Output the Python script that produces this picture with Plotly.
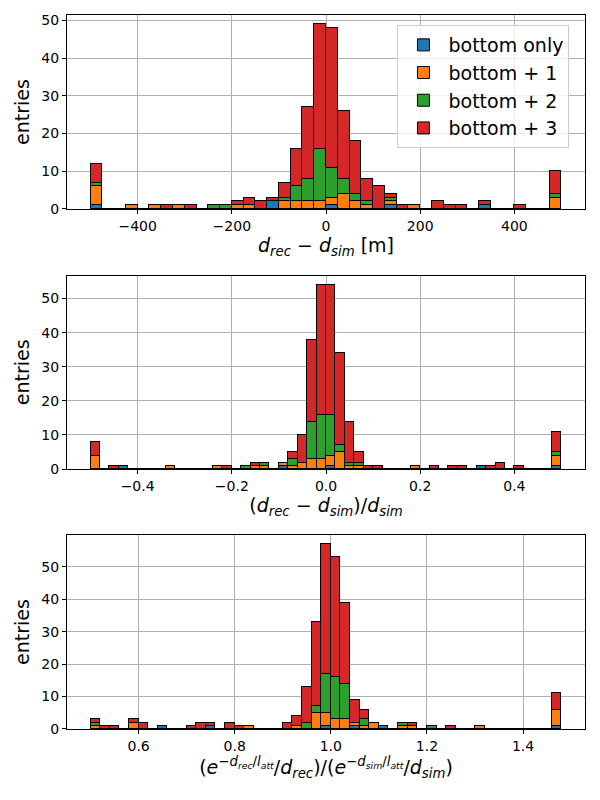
import plotly.graph_objects as go
from plotly.subplots import make_subplots

# histogram binning: first bin edge and bin width of each panel
abs_start, abs_width = -500, 25
rel_start, rel_width = -0.5, 0.02
att_start, att_width = 0.5, 0.02

labels = ["bottom only", "bottom + 1", "bottom + 2", "bottom + 3"]
colors = ["#1f77b4", "#ff7f0e", "#2ca02c", "#d62728"]

# d_rec - d_sim [m], 40 bins
abs_only = [1, 0, 0, 0, 0, 0, 0, 0, 0, 0, 0, 0, 0, 0, 0, 2, 0, 0, 0, 0,
            1, 0, 0, 0, 0, 1, 0, 0, 0, 0, 0, 0, 0, 1, 0, 0, 0, 0, 0, 0]
abs_p1 = [5, 0, 0, 1, 0, 1, 0, 1, 0, 0, 0, 0, 1, 1, 0, 0, 2, 2, 2, 2,
          2, 4, 2, 1, 0, 1, 0, 1, 0, 0, 0, 0, 0, 0, 0, 0, 0, 0, 0, 3]
abs_p2 = [1, 0, 0, 0, 0, 0, 0, 0, 0, 0, 1, 1, 0, 0, 0, 0, 1, 4, 6, 14,
          8, 4, 2, 1, 0, 1, 0, 0, 0, 0, 0, 0, 0, 0, 0, 0, 0, 0, 0, 1]
abs_p3 = [5, 0, 0, 0, 0, 0, 1, 0, 1, 0, 0, 0, 1, 2, 2, 1, 4, 10, 19, 33,
          37, 18, 14, 6, 6, 1, 1, 0, 0, 2, 1, 1, 0, 1, 0, 0, 1, 0, 0, 6]

# (d_rec - d_sim) / d_sim, 50 bins
rel_only = [0, 0, 0, 1, 0, 0, 0, 0, 0, 0, 0, 0, 0, 0, 0, 0, 0, 0, 0, 0, 1, 0, 0, 0, 0,
            1, 0, 0, 0, 0, 0, 0, 0, 0, 0, 0, 0, 0, 0, 0, 0, 1, 0, 0, 0, 0, 0, 0, 0, 1]
rel_p1 = [4, 0, 0, 0, 0, 0, 0, 0, 1, 0, 0, 0, 0, 1, 0, 0, 0, 1, 1, 0, 1, 1, 2, 3, 3,
          3, 5, 1, 1, 0, 0, 0, 0, 0, 1, 0, 0, 0, 0, 0, 0, 0, 0, 0, 0, 0, 0, 0, 0, 3]
rel_p2 = [0, 0, 0, 0, 0, 0, 0, 0, 0, 0, 0, 0, 0, 0, 0, 0, 1, 0, 1, 0, 0, 2, 0, 11, 13,
          12, 2, 1, 1, 0, 0, 0, 0, 0, 0, 0, 0, 0, 0, 0, 0, 0, 0, 0, 0, 0, 0, 0, 0, 1]
rel_p3 = [4, 0, 1, 0, 0, 0, 0, 0, 0, 0, 0, 0, 0, 0, 1, 0, 0, 1, 0, 0, 0, 2, 8, 24, 38,
          38, 27, 12, 3, 1, 1, 0, 0, 0, 0, 0, 1, 0, 1, 1, 0, 0, 1, 2, 0, 1, 0, 0, 0, 6]

# attenuation ratio, 49 bins
att_only = [0, 0, 0, 0, 0, 0, 0, 1, 0, 0, 0, 0, 1, 0, 0, 0, 0, 0, 0, 0, 0, 0, 0, 0, 1,
            0, 0, 1, 0, 0, 1, 0, 0, 0, 0, 0, 0, 0, 0, 0, 0, 0, 0, 0, 0, 0, 0, 0, 1]
att_p1 = [1, 0, 0, 0, 2, 0, 0, 0, 0, 0, 0, 0, 0, 0, 0, 0, 1, 0, 0, 0, 0, 1, 0, 5, 4,
          3, 3, 1, 1, 2, 0, 0, 1, 1, 0, 0, 0, 0, 0, 0, 1, 0, 0, 0, 0, 0, 0, 0, 5]
att_p2 = [1, 0, 0, 0, 0, 0, 0, 0, 0, 0, 0, 0, 0, 0, 0, 0, 0, 0, 0, 0, 0, 0, 2, 2, 12,
          13, 11, 0, 2, 0, 0, 0, 1, 0, 0, 1, 0, 0, 0, 0, 0, 0, 0, 0, 0, 0, 0, 0, 0]
att_p3 = [1, 1, 1, 0, 1, 2, 0, 0, 0, 0, 1, 2, 1, 0, 2, 1, 0, 0, 0, 0, 2, 3, 11, 26, 40,
          37, 25, 7, 3, 0, 0, 0, 0, 1, 0, 0, 0, 1, 0, 0, 0, 0, 0, 0, 0, 0, 0, 0, 5]

panels = [
    (abs_start, abs_width, [abs_only, abs_p1, abs_p2, abs_p3]),
    (rel_start, rel_width, [rel_only, rel_p1, rel_p2, rel_p3]),
    (att_start, att_width, [att_only, att_p1, att_p2, att_p3]),
]

FONT = "DejaVu Sans"

fig = make_subplots(rows=3, cols=1)

for row, (start, width, series) in enumerate(panels, start=1):
    centers = [start + width * (i + 0.5) for i in range(len(series[0]))]
    for name, color, counts in zip(labels, colors, series):
        fig.add_trace(
            go.Bar(
                x=centers,
                y=counts,
                width=width,
                name=name,
                marker=dict(color=color, line=dict(color="black", width=1)),
                showlegend=(row == 1),
            ),
            row=row,
            col=1,
        )

axis_style = dict(
    showgrid=True,
    gridcolor="#b0b0b0",
    gridwidth=0.8,
    showline=True,
    linecolor="black",
    linewidth=1,
    mirror=True,
    ticks="outside",
    ticklen=4,
    tickcolor="black",
    zeroline=False,
    automargin=False,
    layer="above traces",
    tickfont=dict(family=FONT, size=14, color="black"),
)
title_font = dict(family=FONT, size=19, color="black")

# ---------------------------------- axes of the three panels ----------------------------------

domains = [[0.7283, 1.0], [0.3641, 0.6349], [0.0, 0.2717]]
x_titles = [
    "<i>d</i><sub><i>rec</i></sub> − <i>d</i><sub><i>sim</i></sub> [m]",
    "(<i>d</i><sub><i>rec</i></sub> − <i>d</i><sub><i>sim</i></sub>)/<i>d</i><sub><i>sim</i></sub>",
    "(<i>e</i><sup>−<i>d</i><sub><i>rec</i></sub>/<i>l</i><sub><i>att</i></sub></sup>/<i>d</i><sub><i>rec</i></sub>)"
    "/(<i>e</i><sup>−<i>d</i><sub><i>sim</i></sub>/<i>l</i><sub><i>att</i></sub></sup>/<i>d</i><sub><i>sim</i></sub>)",
]
x_ranges = [[-550, 550], [-0.55, 0.55], [0.451, 1.529]]
x_ticks = [[-400, -200, 0, 200, 400], [-0.4, -0.2, 0.0, 0.2, 0.4], [0.6, 0.8, 1.0, 1.2, 1.4]]
x_formats = ["d", ".1f", ".1f"]
y_ranges = [[0, 51.45], [0, 56.7], [0, 59.85]]

for i in range(3):
    fig.update_xaxes(
        axis_style,
        range=x_ranges[i],
        tickvals=x_ticks[i],
        tickformat=x_formats[i],
        title=dict(text=x_titles[i], font=title_font, standoff=4),
        row=i + 1,
        col=1,
    )
    fig.update_yaxes(
        axis_style,
        domain=domains[i],
        range=y_ranges[i],
        dtick=10,
        title=dict(text="entries", font=title_font, standoff=6),
        row=i + 1,
        col=1,
    )

# page body adds an 8px offset, so margins are shifted to compensate
fig.update_layout(
    width=600,
    height=800,
    barmode="stack",
    bargap=0,
    plot_bgcolor="white",
    paper_bgcolor="white",
    margin=dict(l=59, r=23, t=7, b=79),
    font=dict(family=FONT, color="black"),
    legend=dict(
        x=0.97,
        y=0.986,
        xanchor="right",
        yanchor="top",
        traceorder="normal",
        bgcolor="rgba(255,255,255,0.8)",
        bordercolor="#cccccc",
        borderwidth=1,
        font=dict(family=FONT, size=19, color="black"),
        itemwidth=40,
    ),
)

fig.write_html("out.html")
